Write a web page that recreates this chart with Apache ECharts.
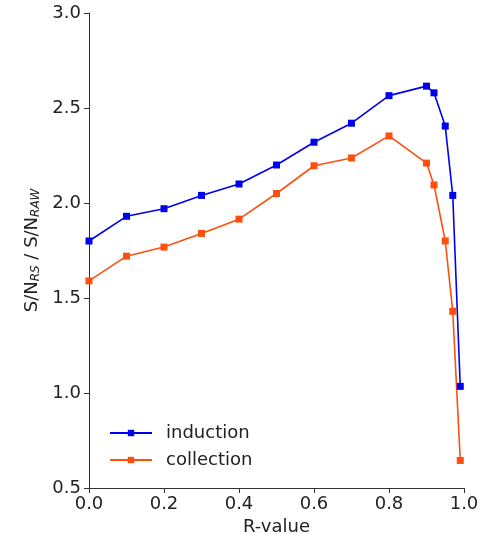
<!DOCTYPE html>
<html>
<head>
<meta charset="utf-8">
<script src="https://cdn.jsdelivr.net/npm/echarts@6/dist/echarts.min.js"></script>
<style>
html,body{margin:0;padding:0;background:#fff;}
#chart{width:486px;height:534px;}
</style>
</head>
<body>
<div id="chart"></div>
<script>
var rValues = [0.0, 0.1, 0.2, 0.3, 0.4, 0.5, 0.6, 0.7, 0.8, 0.9, 0.92, 0.95, 0.97, 0.99];
var induction = [1.80, 1.93, 1.97, 2.04, 2.10, 2.20, 2.32, 2.42, 2.565, 2.615, 2.58, 2.405, 2.04, 1.035];
var collection = [1.59, 1.72, 1.768, 1.84, 1.915, 2.05, 2.196, 2.237, 2.353, 2.21, 2.095, 1.80, 1.43, 0.645];

function pairs(ys){
  var out = [];
  for (var i = 0; i < rValues.length; i++) out.push([rValues[i], ys[i]]);
  return out;
}

var font = 'DejaVu Sans';
var chart = echarts.init(document.getElementById('chart'));
chart.setOption({
  animation: false,
  grid: {left: 89, right: 22, top: 13, bottom: 46, outerBoundsMode: 'none'},
  legend: {
    orient: 'vertical',
    left: 104,
    top: 419,
    itemWidth: 42,
    itemHeight: 8,
    itemGap: 9,
    textStyle: {fontFamily: font, fontSize: 18, color: '#222', padding: [0, 0, 0, 9]},
    data: ['induction', 'collection']
  },
  xAxis: {
    type: 'value',
    min: 0, max: 1, interval: 0.2,
    name: 'R-value',
    nameLocation: 'middle',
    nameGap: 28,
    nameTextStyle: {fontFamily: font, fontSize: 18, color: '#222'},
    axisLine: {lineStyle: {color: '#333', width: 1}},
    axisTick: {show: true, length: 5, lineStyle: {color: '#333'}},
    axisLabel: {fontFamily: font, fontSize: 18, color: '#222', margin: 7,
      formatter: function(v){ return v.toFixed(1); }},
    splitLine: {show: false}
  },
  yAxis: {
    type: 'value',
    min: 0.5, max: 3.0, interval: 0.5,
    name: '{n|S/N}{s|RS}{n| / S/N}{s|RAW}',
    nameLocation: 'middle',
    nameGap: 46,
    nameTextStyle: {
      rich: {
        n: {fontFamily: font, fontSize: 18, color: '#222'},
        s: {fontFamily: font, fontSize: 12, fontStyle: 'italic', color: '#222', verticalAlign: 'bottom', padding: [7, 0, 0, 0]}
      }
    },
    axisLine: {show: true, lineStyle: {color: '#333', width: 1}},
    axisTick: {show: true, length: 5, lineStyle: {color: '#333'}},
    axisLabel: {fontFamily: font, fontSize: 18, color: '#222', margin: 8,
      formatter: function(v){ return v.toFixed(1); }},
    splitLine: {show: false}
  },
  series: [
    {
      name: 'induction',
      type: 'line',
      data: pairs(induction),
      symbol: 'rect',
      symbolSize: 7,
      color: '#0000f0',
      lineStyle: {width: 1.6, color: '#0000f0'},
      itemStyle: {color: '#0000f0'}
    },
    {
      name: 'collection',
      type: 'line',
      data: pairs(collection),
      symbol: 'rect',
      symbolSize: 7,
      color: '#ff4f0f',
      lineStyle: {width: 1.6, color: '#ff4f0f'},
      itemStyle: {color: '#ff4f0f'}
    }
  ]
});
</script>
</body>
</html>
